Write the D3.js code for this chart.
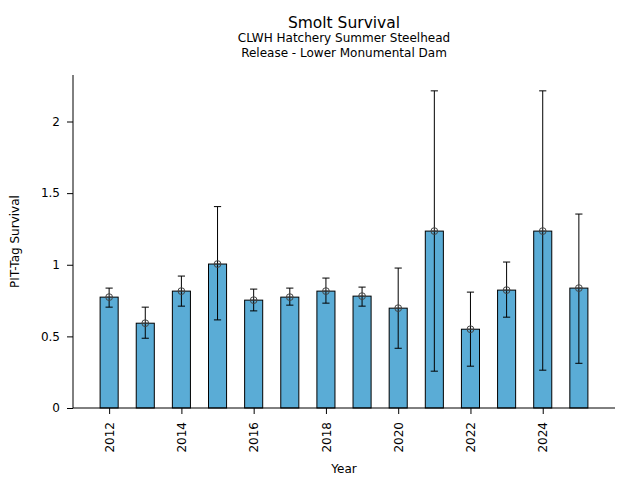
<!DOCTYPE html>
<html>
<head>
<meta charset="utf-8">
<script src="https://cdn.jsdelivr.net/npm/d3@7"></script>
<style>
  body { margin: 0; background: #fff; }
  text { font-family: "DejaVu Sans", sans-serif; fill: #000; }
</style>
</head>
<body>
<div id="chart"></div>
<script>
const years = [2012, 2013, 2014, 2015, 2016, 2017, 2018, 2019, 2020, 2021, 2022, 2023, 2024, 2025];
const survival = [0.774, 0.592, 0.816, 1.005, 0.753, 0.774, 0.816, 0.781, 0.697, 1.235, 0.550, 0.823, 1.235, 0.837];
const ciLower = [0.704, 0.487, 0.711, 0.615, 0.678, 0.718, 0.732, 0.711, 0.417, 0.257, 0.292, 0.634, 0.264, 0.312];
const ciUpper = [0.837, 0.704, 0.921, 1.406, 0.830, 0.837, 0.907, 0.844, 0.977, 2.214, 0.809, 1.019, 2.214, 1.354];
const xTicks = [2012, 2014, 2016, 2018, 2020, 2022, 2024];
const yTicks = [0, 0.5, 1, 1.5, 2];

const title = "Smolt Survival";
const subtitle = ["CLWH Hatchery Summer Steelhead", "Release - Lower Monumental Dam"];

const render = () => {
  const width = 640, height = 480;
  const margin = { left: 73, right: 25, top: 75, bottom: 72 };
  const innerW = width - margin.left - margin.right;
  const innerH = height - margin.top - margin.bottom;

  const data = years.map((y, i) => ({ year: y, value: survival[i], lo: ciLower[i], hi: ciUpper[i] }));

  const svg = d3.select("#chart")
    .append("svg")
    .attr("width", width)
    .attr("height", height);

  // scales (matplotlib style: x padded one year each side, y to 5% over the max ci)
  const x = d3.scaleLinear()
    .domain([d3.min(years) - 1, d3.max(years) + 1])
    .range([0, innerW]);
  const y = d3.scaleLinear()
    .domain([0, d3.max(ciUpper) * 1.05])
    .range([innerH, 0]);

  const barW = x(0.5) - x(0);

  const g = svg.append("g")
    .attr("transform", `translate(${margin.left},${margin.top})`);

  // bars
  g.append("g")
    .selectAll("rect")
    .data(data)
    .enter()
    .append("rect")
    .attr("x", d => x(d.year) - barW / 2)
    .attr("y", d => y(d.value))
    .attr("width", barW)
    .attr("height", d => y(0) - y(d.value))
    .attr("fill", "#5aacd6")
    .attr("stroke", "#000")
    .attr("stroke-width", 1);

  // error bars
  const cap = 3.6;
  const err = g.append("g")
    .attr("stroke", "#000")
    .attr("stroke-width", 1)
    .selectAll("g")
    .data(data)
    .enter()
    .append("g");
  err.append("line")
    .attr("x1", d => x(d.year)).attr("x2", d => x(d.year))
    .attr("y1", d => y(d.lo)).attr("y2", d => y(d.hi));
  err.append("line")
    .attr("x1", d => x(d.year) - cap).attr("x2", d => x(d.year) + cap)
    .attr("y1", d => y(d.lo)).attr("y2", d => y(d.lo));
  err.append("line")
    .attr("x1", d => x(d.year) - cap).attr("x2", d => x(d.year) + cap)
    .attr("y1", d => y(d.hi)).attr("y2", d => y(d.hi));

  // point markers
  const mk = g.append("g")
    .selectAll("g")
    .data(data)
    .enter()
    .append("g")
    .attr("transform", d => `translate(${x(d.year)},${y(d.value)})`);
  mk.append("circle")
    .attr("r", 3.4)
    .attr("fill", "none")
    .attr("stroke", "#444")
    .attr("stroke-width", 1);
  mk.append("line")
    .attr("x1", -3.4).attr("x2", 3.4)
    .attr("stroke", "#444")
    .attr("stroke-width", 1);

  // y axis
  const yAxis = d3.axisLeft(y)
    .tickValues(yTicks)
    .tickFormat(d => String(d))
    .tickSize(6)
    .tickPadding(7);
  const ya = g.append("g").call(yAxis);
  ya.select(".domain").remove();
  ya.selectAll("text").style("font-size", "12px").style("font-family", "DejaVu Sans");

  // x axis
  const xAxis = d3.axisBottom(x)
    .tickValues(xTicks)
    .tickFormat(d => String(d))
    .tickSize(6)
    .tickPadding(5);
  const xa = g.append("g")
    .attr("transform", `translate(0,${innerH})`)
    .call(xAxis);
  xa.select(".domain").remove();
  xa.selectAll("text")
    .style("font-size", "12px")
    .style("font-family", "DejaVu Sans")
    .attr("text-anchor", "end")
    .attr("transform", "rotate(-90)")
    .attr("x", -14)
    .attr("y", 0)
    .attr("dy", "0.35em");

  // spines: left and bottom only
  g.append("line")
    .attr("x1", 0).attr("x2", 0).attr("y1", 0).attr("y2", innerH)
    .attr("stroke", "#000").attr("stroke-width", 1);
  g.append("line")
    .attr("x1", 0).attr("x2", innerW).attr("y1", innerH).attr("y2", innerH)
    .attr("stroke", "#000").attr("stroke-width", 1);

  // axis labels
  svg.append("text")
    .text("Year")
    .attr("x", margin.left + innerW / 2)
    .attr("y", 473)
    .attr("text-anchor", "middle")
    .style("font-size", "12px");
  svg.append("text")
    .text("PIT-Tag Survival")
    .attr("text-anchor", "middle")
    .attr("transform", `translate(19,${margin.top + innerH / 2}) rotate(-90)`)
    .style("font-size", "12px");

  // titles
  const cx = margin.left + innerW / 2;
  svg.append("text")
    .text(title)
    .attr("x", cx)
    .attr("y", 28)
    .attr("text-anchor", "middle")
    .style("font-size", "15.5px");
  subtitle.forEach((s, i) => {
    svg.append("text")
      .text(s)
      .attr("x", cx)
      .attr("y", 42 + i * 15)
      .attr("text-anchor", "middle")
      .style("font-size", "12px");
  });
};

document.addEventListener("DOMContentLoaded", render);
</script>
</body>
</html>
